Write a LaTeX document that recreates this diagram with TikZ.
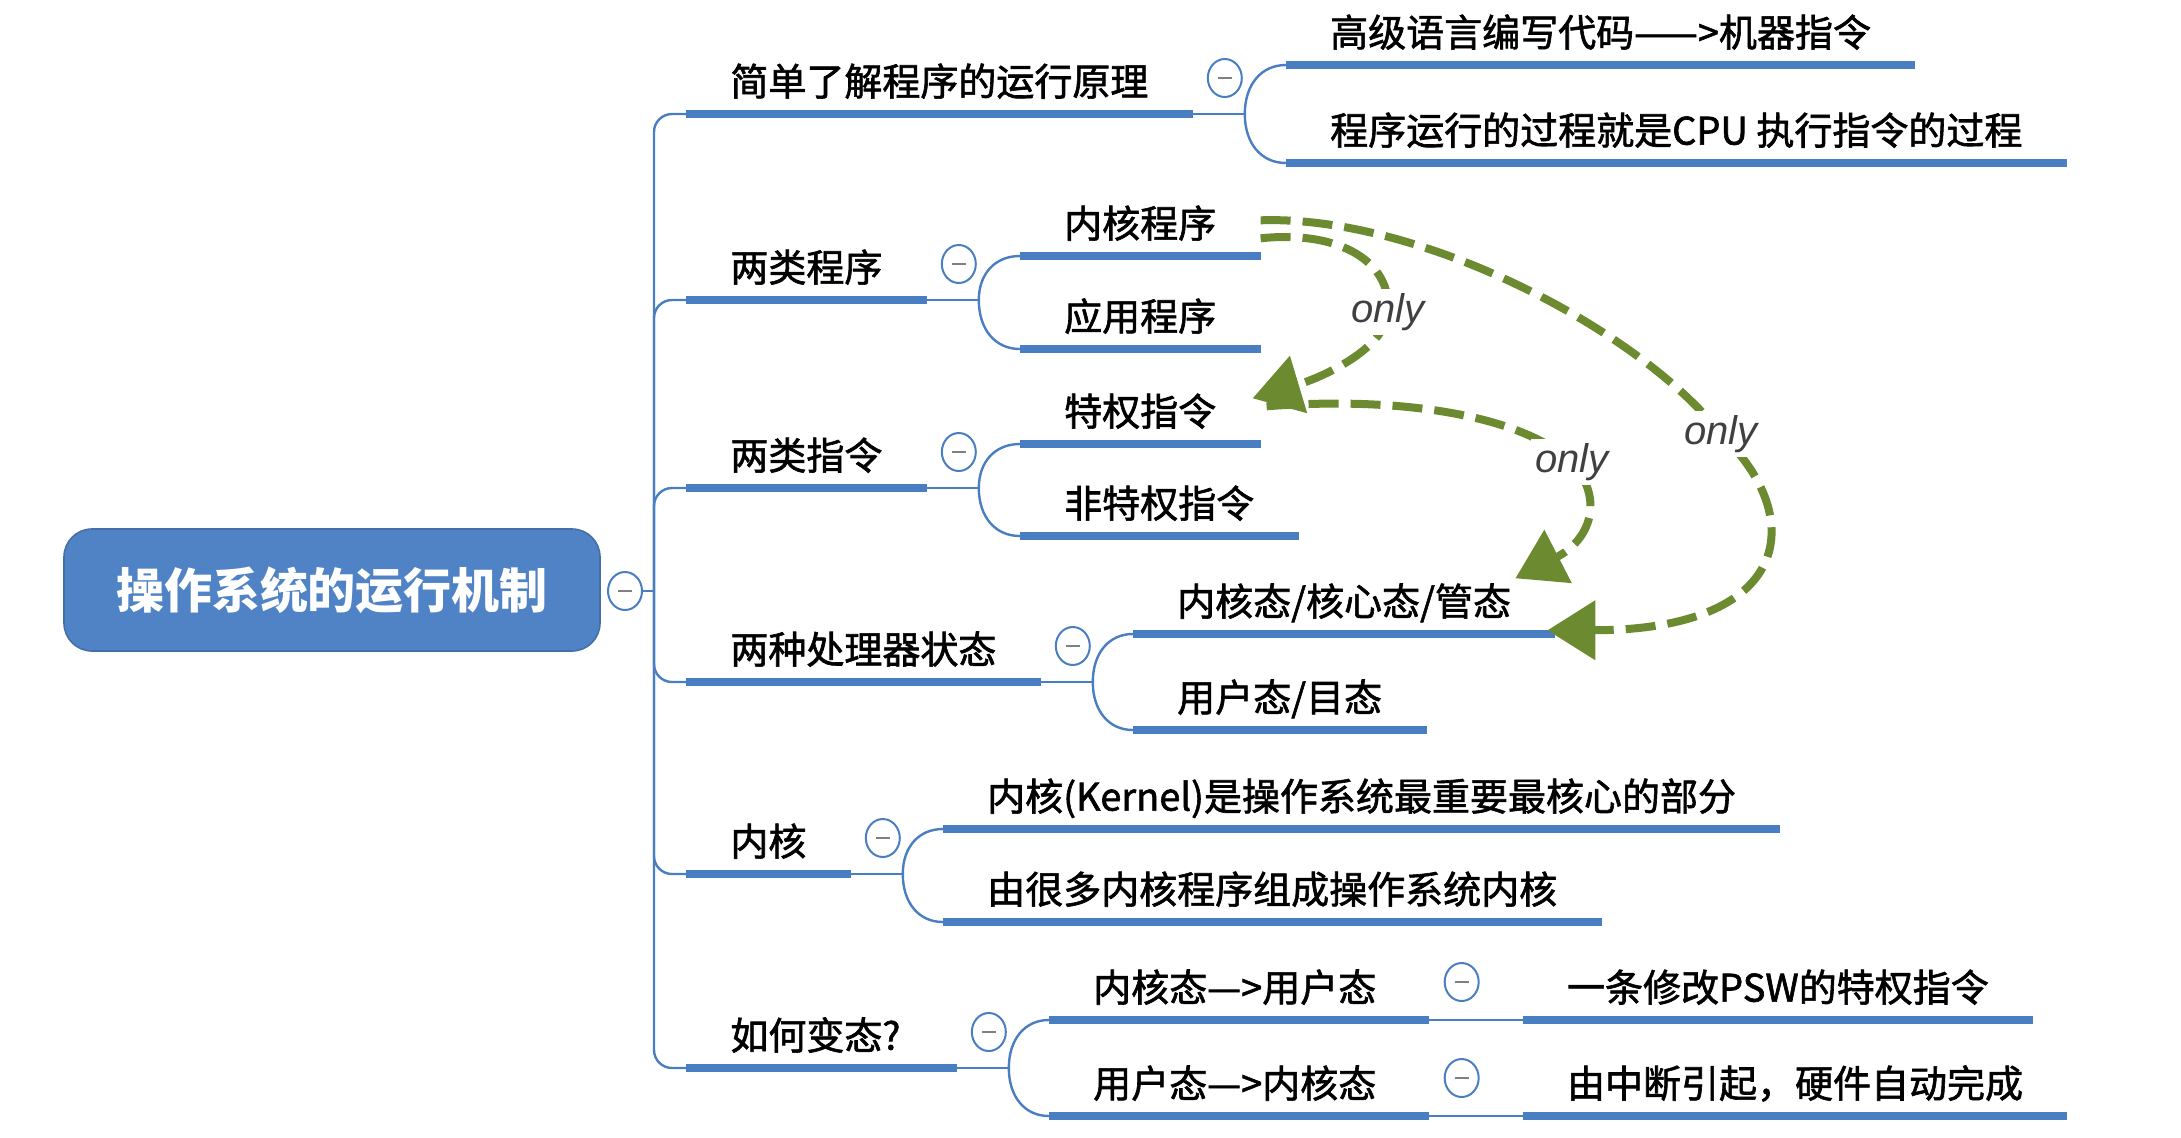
\documentclass[tikz,border=0pt]{standalone}
\usepackage{fontspec}
\setmainfont{Noto Sans CJK SC}
\newfontfamily\cjkmed{Noto Sans CJK SC}[FakeBold=1.6]
\newfontfamily\latin{Liberation Sans}
\usetikzlibrary{arrows.meta,calc,positioning,shapes.geometric}

\definecolor{mapblue}{RGB}{80,131,198}
\definecolor{lineblue}{RGB}{74,126,194}
\definecolor{olive}{RGB}{108,139,48}

\begin{document}
\begin{tikzpicture}[x=0.5pt, y=-0.5pt,
  topic/.style={anchor=south west, inner xsep=22pt, inner ysep=7.5pt,
    text height=0.88em, text depth=0.15em, font=\cjkmed\fontsize{19}{23}\selectfont},
  rootbox/.style={draw=mapblue!85!black, line width=0.8pt, fill=mapblue, rounded corners=14pt,
    minimum width=268pt, minimum height=61pt, text=white, font=\fontsize{24}{28}\selectfont\bfseries},
  fold/.style={ellipse, draw=lineblue, line width=1pt, fill=white, minimum width=17pt,
    minimum height=19pt, inner sep=0pt,
    path picture={\draw[gray, line width=1pt] ([xshift=-3.5pt]path picture bounding box.center)
      -- ([xshift=3.5pt]path picture bounding box.center);}},
  uline/.style={lineblue, line width=4pt},
  link/.style={lineblue, line width=1.2pt},
  onlyarrow/.style={olive, line width=4pt, dash pattern=on 15pt off 6pt,
    -{Triangle[length=24pt, width=29pt]}},
  onlylbl/.style={fill=white, inner sep=2pt, text=black!75,
    font=\latin\itshape\fontsize{20}{24}\selectfont}
]
\useasboundingbox (0,0) rectangle (2181,1137);

% 中心主题
\node[rootbox] (root) at (332,590) {操作系统的运行机制};
\node[fold] (m0) at (625,591) {};
\coordinate (trunk) at (654,591);
\draw[link] (m0.east) -- (trunk);

% 一级分支
\node[topic] (b1) at (686,114)  {简单了解程序的运行原理};
\node[topic] (b2) at (686,300)  {两类程序};
\node[topic] (b3) at (686,488)  {两类指令};
\node[topic] (b4) at (686,682)  {两种处理器状态};
\node[topic] (b5) at (686,874)  {内核};
\node[topic] (b6) at (686,1068) {如何变态?\hspace*{6pt}};

\foreach \n in {b1,b2,b3,b4,b5,b6}
  \draw[link, rounded corners=9pt] (trunk) |- (\n.south west);

% 折叠按钮与分叉点
\foreach \p in {b1,b2,b3,b4,b5,b6} {
  \coordinate (\p j) at ($(\p.south east)+(52,0)$);
  \draw[link] (\p.south east) -- (\p j);
  \node[fold] (\p fold) at ($(\p.south east)+(32,-36)$) {};
}

% 二级分支
\node[topic] (c1a) at ($(b1j)+(41,-49)$) {高级语言编写代码——>机器指令};
\node[topic] (c1b) at ($(b1j)+(41,49)$)  {程序运行的过程就是CPU 执行指令的过程};
\node[topic] (c2a) at ($(b2j)+(41,-44)$) {内核程序};
\node[topic] (c2b) at ($(b2j)+(41,49)$)  {应用程序};
\node[topic] (c3a) at ($(b3j)+(41,-44)$) {特权指令};
\node[topic] (c3b) at ($(b3j)+(41,48)$)  {非特权指令};
\node[topic] (c4a) at ($(b4j)+(40,-48)$) {内核态/核心态/管态};
\node[topic] (c4b) at ($(b4j)+(40,48)$)  {用户态/目态};
\node[topic] (c5a) at ($(b5j)+(40,-45)$) {内核(Kernel)是操作系统最重要最核心的部分};
\node[topic] (c5b) at ($(b5j)+(40,48)$)  {由很多内核程序组成操作系统内核};
\node[topic] (c6a) at ($(b6j)+(40,-48)$) {内核态—>用户态\hspace*{4pt}};
\node[topic] (c6b) at ($(b6j)+(40,48)$)  {用户态—>内核态\hspace*{4pt}};

\foreach \p/\c in {b1j/c1a,b1j/c1b,b2j/c2a,b2j/c2b,b3j/c3a,b3j/c3b,
                   b4j/c4a,b4j/c4b,b5j/c5a,b5j/c5b,b6j/c6a,b6j/c6b}
  \draw[link] (\p) .. controls ($(\p)!0.6!(\p|-\c.south west)$)
    and ($(\p|-\c.south west)!0.4!(\c.south west)$) .. (\c.south west);

% 三级分支
\node[fold] (c6afold) at ($(c6a.south east)+(33,-38)$) {};
\node[fold] (c6bfold) at ($(c6b.south east)+(33,-38)$) {};
\node[topic] (g6a) at ($(c6a.south east)+(94,0)$) {一条修改PSW的特权指令};
\node[topic] (g6b) at ($(c6b.south east)+(94,0)$) {由中断引起，硬件自动完成};
\draw[link] (c6a.south east) -- (g6a.south west);
\draw[link] (c6b.south east) -- (g6b.south west);

% 下划线
\foreach \n in {b1,b2,b3,b4,b5,b6,c1a,c1b,c2a,c2b,c3a,c3b,c4a,c4b,c5a,c5b,c6a,c6b,g6a,g6b}
  \draw[uline] (\n.south west) -- (\n.south east);

% only 箭头
\draw[onlyarrow] ([yshift=-4pt]c2a.east) .. controls (1340,230) and (1392,262) ..
  (1388,312) node[onlylbl] (o1) {only}
  .. controls (1385,350) and (1320,378) .. ([shift={(-4pt,10pt)}]c3a.east);
\draw[onlyarrow] ([yshift=5pt]c2a.east) .. controls (1420,215) and (1640,330) ..
  (1721,434) node[onlylbl] (o2) {only}
  .. controls (1810,520) and (1790,630) .. ([shift={(-4pt,-11pt)}]c4a.east);
\draw[onlyarrow] ([shift={(3pt,6pt)}]c3a.east) .. controls (1400,396) and (1520,415) ..
  (1572,462) node[onlylbl] (o3) {only}
  .. controls (1605,500) and (1590,540) .. ([shift={(-20pt,15pt)}]c4a.east);

\end{tikzpicture}
\end{document}
